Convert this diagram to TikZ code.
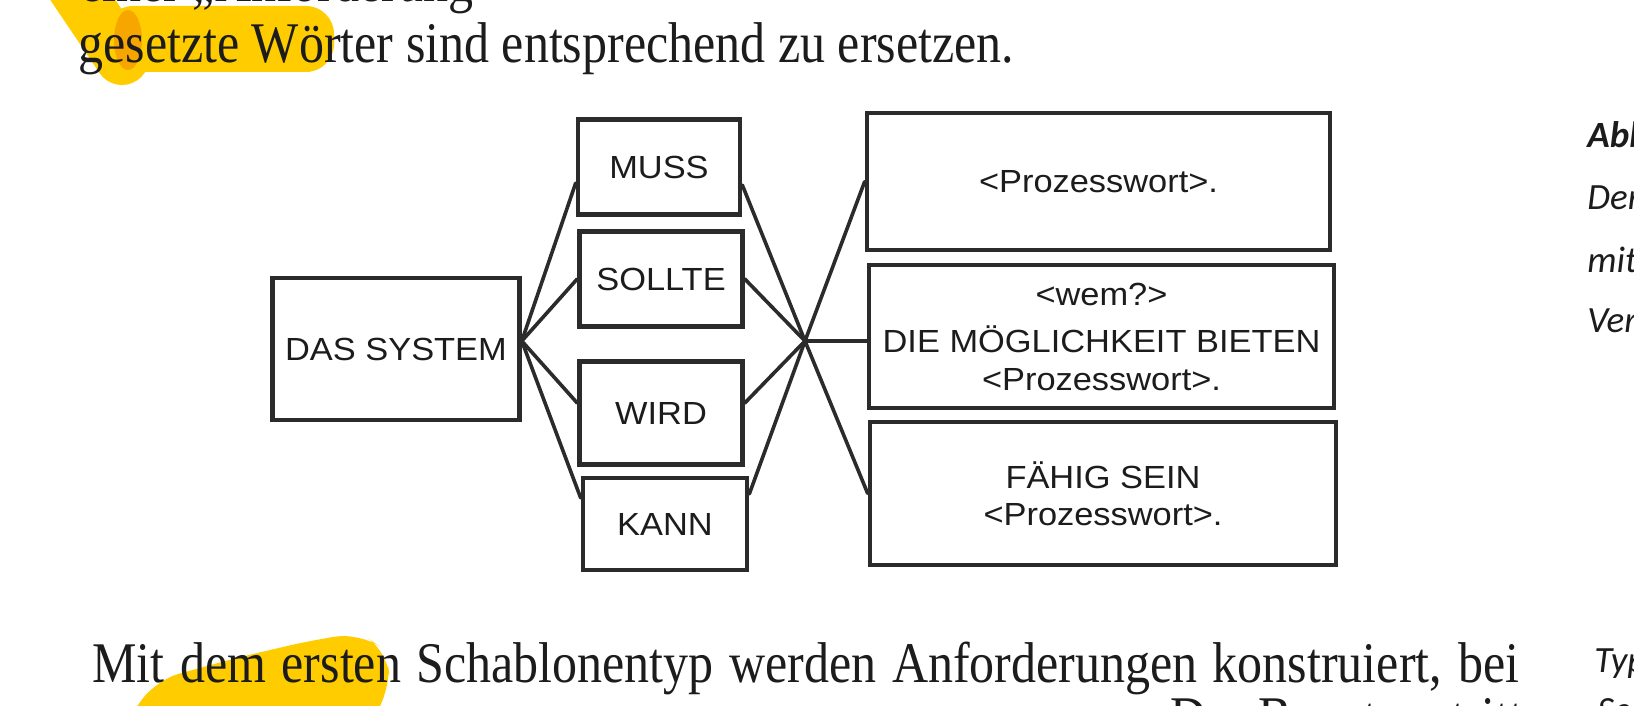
\documentclass[tikz,border=0pt]{standalone}
\usepackage{graphicx}
\usepackage{fontspec}
\setmainfont{Liberation Serif}
\newfontfamily\diagfont[FakeStretch=1.075]{Liberation Sans}
\newfontfamily\margfont{Carlito}
\definecolor{boxgray}{HTML}{2B2B2B}
\definecolor{inkgray}{HTML}{1C1C1C}
\definecolor{hlyellow}{HTML}{FFCC00}
\definecolor{hlorange}{HTML}{F7A600}
\tikzset{
  lbox/.style={draw=boxgray, line width=2.3pt, inner sep=0pt, text=inkgray,
    font=\diagfont\fontsize{16}{19}\selectfont, align=center},
  rbox/.style={draw=boxgray, line width=2.3pt, inner sep=0pt, text=inkgray,
    font=\diagfont\fontsize{16}{19}\selectfont, align=center},
  conn/.style={draw=boxgray, line width=1.8pt, line cap=round},
  body/.style={text=inkgray, inner sep=0pt, anchor=base west,
    font=\fontsize{25}{30}\selectfont},
  marg/.style={text=inkgray, inner sep=0pt, anchor=base west,
    font=\margfont\itshape\fontsize{18.5}{22}\selectfont}
}
\begin{document}
\begin{tikzpicture}[x=0.5pt,y=-0.5pt]
\useasboundingbox (0,0) rectangle (1634,706);
\clip (0,0) rectangle (1634,706);
\fill[white] (0,0) rectangle (1634,706);

% highlighter marks
\draw[hlyellow, line width=27pt, line cap=round] (66,-25) -- (122,58);
\fill[hlyellow, rounded corners=14pt] (105,6) rectangle (334,72);
\fill[hlorange] (128,40) ellipse (14 and 30);
\fill[hlyellow, rounded corners=12pt] (120,730) -- (156,680) -- (240,657) -- (313,640) -- (360,633) -- (388,652) -- (390,690) -- (366,730) -- cycle;

% body text
\node[body] (t0) at (80,2) {\scalebox{1}[1.15]{einer „Anforderung“}};
\node[body] (t1) at (78,63) {\scalebox{1}[1.15]{gesetzte Wörter sind entsprechend zu ersetzen.}};
\node[body] (t2) at (92,682) {\scalebox{1}[1.15]{\makebox[713.5pt][s]{Mit dem ersten Schablonentyp werden Anforderungen konstruiert, bei}}};
\node[body, anchor=base east] (t3) at (1524,736) {\scalebox{1}[1.15]{Der Benutzer tritt}};

% margin text
\node[marg, font=\margfont\bfseries\itshape\fontsize{18.5}{22}\selectfont] (m1) at (1587,148) {Abb};
\node[marg] (m2) at (1587,210) {Der};
\node[marg] (m3) at (1587,272) {mit};
\node[marg] (m4) at (1587,332) {Ver};
\node[marg] (m5) at (1594,672) {Typ};
\node[marg] (m6) at (1597,722) {Sc};

% diagram boxes
\node[lbox, minimum width=123.5pt, minimum height=71pt] (sys) at (396,349) {DAS SYSTEM};
\node[lbox, minimum width=81pt, minimum height=47.5pt] (muss) at (659,167) {MUSS};
\node[lbox, minimum width=81.5pt, minimum height=47.5pt] (sollte) at (661,279) {SOLLTE};
\node[lbox, minimum width=81.5pt, minimum height=51.5pt] (wird) at (661,413) {WIRD};
\node[lbox, minimum width=82pt, minimum height=46pt] (kann) at (665,524) {KANN};

\node[rbox, minimum width=231.5pt, minimum height=68.5pt] (r1) at (1098.5,181.5) {<Prozesswort>.};
\node[rbox, minimum width=232.5pt, minimum height=71.5pt] (r2) at (1101.5,336.5)
  {<wem?>\\[4.5pt]DIE MÖGLICHKEIT BIETEN\\<Prozesswort>.};
\node[rbox, minimum width=233pt, minimum height=71.5pt, font=\diagfont\fontsize{16}{18.5}\selectfont] (r3) at (1103,493.5)
  {FÄHIG SEIN\\<Prozesswort>.};

\coordinate (hub) at (805,341);
\coordinate (sysout) at ([yshift=4pt]sys.east);

% connectors
\draw[conn] (sysout) -- ([yshift=-8pt]muss.west);
\draw[conn] (sysout) -- (sollte.west);
\draw[conn] (sysout) -- ([yshift=5pt]wird.west);
\draw[conn] (sysout) -- ([yshift=13pt]kann.west);

\draw[conn] ([yshift=-9pt]muss.east) -- (hub);
\draw[conn] (sollte.east) -- (hub);
\draw[conn] ([yshift=5pt]wird.east) -- (hub);
\draw[conn] ([yshift=15pt]kann.east) -- (hub);

\draw[conn] (hub) -- (r1.west);
\draw[conn] (hub) -- (hub -| r2.west);
\draw[conn] (hub) -- (r3.west);
\end{tikzpicture}
\end{document}
